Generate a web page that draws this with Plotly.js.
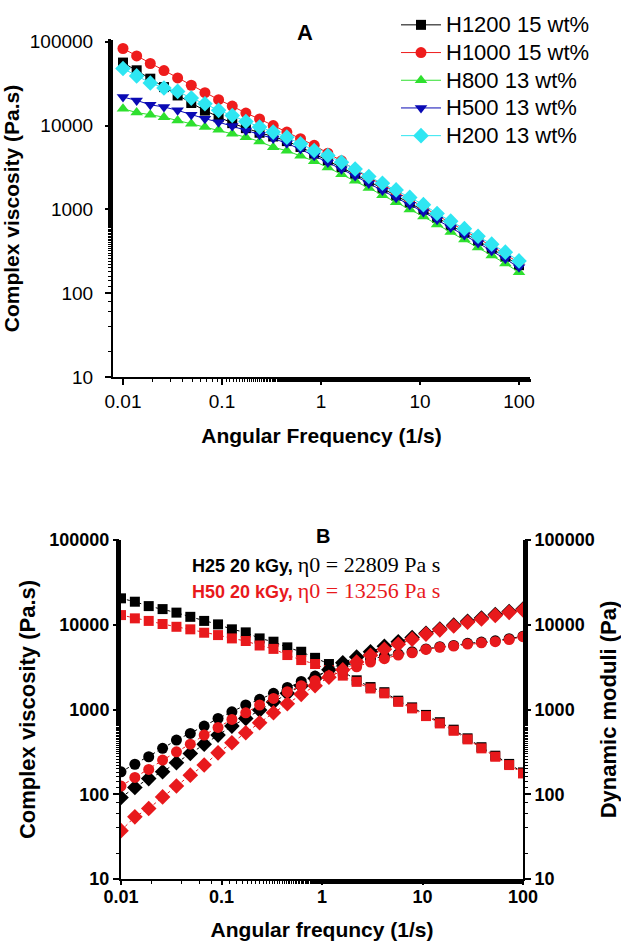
<!DOCTYPE html>
<html>
<head>
<meta charset="utf-8">
<script src="https://cdn.plot.ly/plotly-3.0.1.min.js"></script>
<style>html,body{margin:0;padding:0;background:#fff;}#chart{width:621px;height:944px;}</style>
</head>
<body>
<div id="chart"></div>
<script>
// ---------- shared frequency axis (rad/s) ----------
const freq = [0.01, 0.01374, 0.01887, 0.02593, 0.03562, 0.04894, 0.06723, 0.09237, 0.1269, 0.1743,
  0.2395, 0.3290, 0.4520, 0.6210, 0.8532, 1.172, 1.610, 2.212, 3.039, 4.175,
  5.736, 7.880, 10.83, 14.87, 20.43, 28.07, 38.57, 52.98, 72.79, 100];

// ---------- Panel A: complex viscosity (Pa.s) ----------
const seriesNamesA = ["H1200 15 wt%", "H1000 15 wt%", "H800 13 wt%", "H500 13 wt%", "H200 13 wt%"];
const h1200 = [56500, 45700, 36300, 28800, 22900, 18600, 15100, 12600, 10700, 9330,
  8220, 7410, 6530, 5560, 4620, 3850, 3200, 2660, 2160, 1780,
  1460, 1200, 989, 794, 646, 525, 422, 339, 272, 216];
const h1000 = [83200, 67900, 55100, 45400, 37100, 30300, 24700, 20400, 17100, 14100,
  12000, 10000, 8360, 6970, 5820, 4680, 3800, 2950, 2400, 1970,
  1620, 1320, 1070, 851, 692, 562, 452, 363, 292, 229];
const h800 = [15900, 14300, 13500, 12600, 11500, 10500, 9600, 8910, 7980, 7280,
  6460, 5530, 5010, 4370, 3760, 3160, 2630, 2190, 1800, 1480,
  1220, 1000, 822, 661, 537, 437, 351, 282, 226, 178];
const h500 = [21900, 20000, 17700, 16700, 15200, 13500, 12100, 11000, 9860, 8750,
  7760, 7000, 6170, 5250, 4370, 3630, 3020, 2510, 2040, 1680,
  1380, 1140, 933, 750, 610, 495, 398, 320, 257, 204];
const h200 = [48000, 39200, 32300, 28100, 25600, 21300, 18200, 15200, 13200, 11200,
  9600, 8360, 7280, 6070, 5050, 4400, 3660, 3040, 2470, 2050,
  1710, 1390, 1140, 895, 724, 589, 479, 385, 309, 243];

// ---------- Panel B ----------
const h25Eta = [20500, 18700, 16600, 15300, 13900, 12400, 11100, 10100, 8830, 8130,
  6900, 6310, 5410, 4800, 4070, 3440, 2820, 2210, 1840, 1600,
  1270, 1060, 863, 708, 578, 457, 359, 285, 228, 181];
const h50Eta = [13000, 11900, 11100, 10200, 9460, 8830, 8050, 7550, 6900, 6430,
  5690, 5190, 4390, 3830, 3440, 2920, 2510, 2120, 1770, 1550,
  1230, 1030, 836, 685, 561, 444, 348, 277, 221, 176];
const h25G2 = [184, 226, 277, 348, 436, 522, 637, 785, 940, 1130,
  1320, 1550, 1820, 2140, 2480, 2850, 3240, 3590, 3940, 4270,
  4520, 4790, 5190, 5500, 5690, 6030, 6240, 6460, 6840, 7330];
const h50G2 = [125, 158, 196, 253, 317, 390, 499, 615, 764, 914,
  1130, 1350, 1620, 1910, 2190, 2510, 2820, 3190, 3630, 3980,
  4390, 4670, 5120, 5410, 5610, 5920, 6120, 6310, 6680, 7240];
const h25G1 = [91.6, 120, 153, 184, 235, 303, 390, 499, 637, 785,
  984, 1230, 1550, 1910, 2340, 2950, 3550, 4170, 4790, 5560,
  6310, 7080, 7940, 8910, 9890, 11000, 12000, 13200, 14300, 15300];
const h50G1 = [37.2, 54.1, 67.9, 93.1, 125, 168, 221, 308, 405, 531,
  697, 914, 1170, 1510, 1910, 2400, 2950, 3630, 4370, 5130,
  5890, 6760, 7760, 8710, 9660, 10700, 11700, 12900, 14000, 15000];
const labelB1 = ["H25 20 kGy,", "η0 = 22809 Pa s"];
const labelB2 = ["H50 20 kGy,", "η0 = 13256 Pa s"];

// ---------- tick labels ----------
const yTickVals = [10, 100, 1000, 10000, 100000];
const yTickText = ["10", "100", "1000", "10000", "100000"];
const xTickVals = [0.01, 0.1, 1, 10, 100];
const xTickText = ["0.01", "0.1", "1", "10", "100"];

const W = 621, H = 944;
const SANS = "Liberation Sans, Arial, sans-serif";
const SERIF = "Liberation Serif, Times New Roman, serif";
const RED = "#e8191c";

const colorsA = ["#000000", "#ee1c1c", "#2ee02e", "#0a0ab4", "#2ee6f2"];
const symbolsA = ["square", "circle", "triangle-up", "triangle-down", "diamond"];
const sizesA = [10, 11, 11, 11, 12];
const dataA = [h1200, h1000, h800, h500, h200];

const traces = [];
dataA.forEach((ys, k) => {
  traces.push({
    x: freq, y: ys, type: "scatter", mode: "lines+markers",
    name: "<span style='font-size:22px'>" + seriesNamesA[k] + "</span>",
    xaxis: "x", yaxis: "y",
    line: {color: colorsA[k], width: 1},
    marker: {color: colorsA[k], symbol: symbolsA[k], size: sizesA[k]},
    showlegend: true
  });
});

function bTrace(ys, color, symbol, size, axis) {
  return {
    x: freq, y: ys, type: "scatter", mode: "lines+markers", showlegend: false,
    xaxis: "x2", yaxis: axis,
    line: {color: color, width: 1, dash: "dot"},
    marker: {color: color, symbol: symbol, size: size}
  };
}
traces.push(bTrace(h25Eta, "#000000", "square", 10, "y2"));
traces.push(bTrace(h25G2, "#000000", "circle", 11, "y3"));
traces.push(bTrace(h25G1, "#000000", "diamond", 12, "y3"));
traces.push(bTrace(h50Eta, RED, "square", 10, "y2"));
traces.push(bTrace(h50G2, RED, "circle", 11, "y3"));
traces.push(bTrace(h50G1, RED, "diamond", 12, "y3"));

const px = v => v / W;
const py = v => 1 - v / H;

const tickFont = {family: SANS, size: 19, color: "#000"};
const tickFontB = {family: SANS, size: 18, color: "#000", weight: "bold"};
const titleFont = {family: SANS, size: 21, color: "#000", weight: "bold"};
const titleFontB = {family: SANS, size: 22, color: "#000", weight: "bold"};

function logAxis(extra) {
  return Object.assign({
    type: "log", showgrid: false, zeroline: false, showline: true, linecolor: "#000", linewidth: 2,
    ticks: "outside", ticklen: 6, tickwidth: 2, tickcolor: "#000",
    minor: {ticks: "outside", ticklen: 3, tickwidth: 1, tickcolor: "#000", showgrid: false},
    mirror: false
  }, extra);
}

const layout = {
  width: W, height: H,
  margin: {l: 0, r: 0, t: 0, b: 0, pad: 0},
  paper_bgcolor: "#fff", plot_bgcolor: "rgba(0,0,0,0)",
  showlegend: true,
  legend: {
    x: px(396), y: py(6), xanchor: "left", yanchor: "top",
    font: {family: SANS, size: 19, color: "#000"}, itemwidth: 40,
    bgcolor: "rgba(255,255,255,0)", borderwidth: 0, tracegroupgap: 0
  },
  xaxis: logAxis({
    domain: [px(113), px(530)], range: [-2.101, 2.111], anchor: "y",
    tickvals: xTickVals, ticktext: xTickText, tickfont: tickFont,
    title: {text: "Angular Frequency (1/s)", font: titleFont, standoff: 18}
  }),
  yaxis: logAxis({
    domain: [py(377), py(40)], range: [1, 5.0215], anchor: "x",
    tickvals: yTickVals, ticktext: yTickText, tickfont: tickFont,
    ticklabelposition: "outside", ticklabelstandoff: 8,
    title: {text: "Complex viscosity (Pa.s)", font: titleFont, standoff: 4}
  }),
  xaxis2: logAxis({
    domain: [px(121), px(523)], range: [-2, 2], anchor: "y2", ticklen: 4,
    tickvals: xTickVals, ticktext: xTickText, tickfont: tickFontB,
    ticklabelposition: "outside", ticklabelstandoff: -4,
    title: {text: "Angular frequncy (1/s)", font: titleFont, standoff: 17}
  }),
  yaxis2: logAxis({
    domain: [py(879), py(540)], range: [1, 5], anchor: "x2",
    tickvals: yTickVals, ticktext: yTickText, tickfont: tickFontB,
    title: {text: "Complex viscosity (Pa.s)", font: titleFontB, standoff: 8}
  }),
  yaxis3: logAxis({
    domain: [py(879), py(540)], range: [1, 5], anchor: "x2", overlaying: "y2", side: "right",
    tickvals: yTickVals, ticktext: yTickText, tickfont: tickFontB,
    title: {text: "Dynamic moduli (Pa)", font: titleFontB, standoff: 8}
  }),
  annotations: [
    {xref: "paper", yref: "paper", x: px(305), y: py(33), text: "<b>A</b>", showarrow: false,
     font: {family: SANS, size: 22, color: "#000"}, xanchor: "center", yanchor: "middle"},
    {xref: "paper", yref: "paper", x: px(323), y: py(536), text: "<b>B</b>", showarrow: false,
     font: {family: SANS, size: 20, color: "#000"}, xanchor: "center", yanchor: "middle"},
    {xref: "paper", yref: "paper", x: px(316), y: py(564),
     text: "<b>" + labelB1[0] + "</b> <span style='font-family:" + SERIF + ";font-size:22px'>" + labelB1[1] + "</span>",
     showarrow: false, font: {family: SANS, size: 18, color: "#000"}, xanchor: "center", yanchor: "middle"},
    {xref: "paper", yref: "paper", x: px(316), y: py(590),
     text: "<b>" + labelB2[0] + "</b> <span style='font-family:" + SERIF + ";font-size:22px'>" + labelB2[1] + "</span>",
     showarrow: false, font: {family: SANS, size: 18, color: RED}, xanchor: "center", yanchor: "middle"}
  ]
};

Plotly.newPlot("chart", traces, layout, {displayModeBar: false, staticPlot: true});
</script>
</body>
</html>
